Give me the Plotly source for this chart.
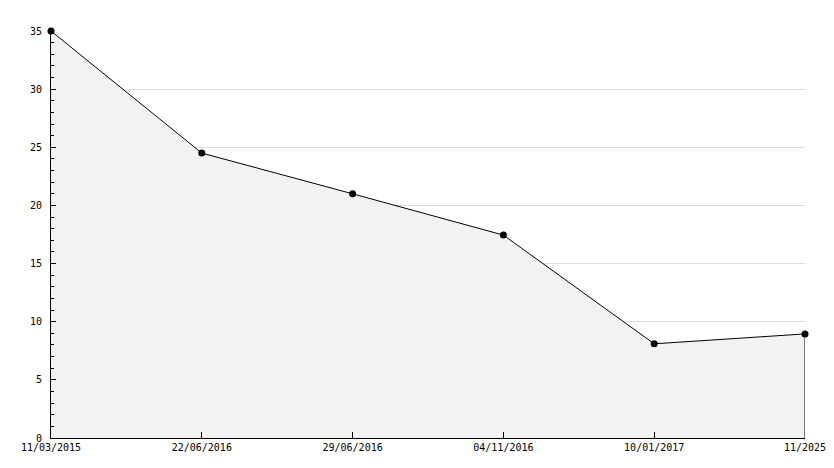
import plotly.graph_objects as go

dates = ["11/03/2015", "22/06/2016", "29/06/2016", "04/11/2016", "10/01/2017", "11/2025"]
values = [35, 24.5, 21, 17.45, 8.1, 8.95]

fig = go.Figure()
fig.add_trace(go.Scatter(
    x=dates, y=values, mode="lines",
    fill="tozeroy", fillcolor="#f2f2f2",
    line=dict(color="black", width=1),
    showlegend=False,
))
fig.add_trace(go.Scatter(
    x=[dates[-1], dates[-1]], y=[values[-1], 0], mode="lines",
    line=dict(color="black", width=1), showlegend=False, hoverinfo="skip",
))
fig.add_trace(go.Scatter(
    x=dates, y=values, mode="markers", cliponaxis=False,
    marker=dict(symbol="circle", size=7, color="black"),
    showlegend=False,
))

font = dict(family="DejaVu Sans Mono", size=10, color="black")
fig.update_layout(
    width=826, height=460,
    margin=dict(l=43, r=29, t=23, b=30, autoexpand=False),
    paper_bgcolor="white", plot_bgcolor="white",
    font=font,
    xaxis=dict(
        type="category", range=[0, 5], showgrid=False, automargin=False,
        showline=True, linecolor="black", linewidth=1,
        ticks="inside", ticklen=6, tickcolor="black",
        tickfont=font, zeroline=False,
    ),
    yaxis=dict(
        range=[0, 35], dtick=5, showgrid=True, gridcolor="#dddddd", gridwidth=1,
        automargin=False,
        showline=True, linecolor="black", linewidth=1,
        ticks="inside", ticklen=5, tickcolor="black",
        minor=dict(dtick=1, ticks="inside", ticklen=3, tickcolor="black", showgrid=False),
        tickfont=font, zeroline=False, ticklabelstandoff=6,
    ),
)
fig.write_html("out.html")
